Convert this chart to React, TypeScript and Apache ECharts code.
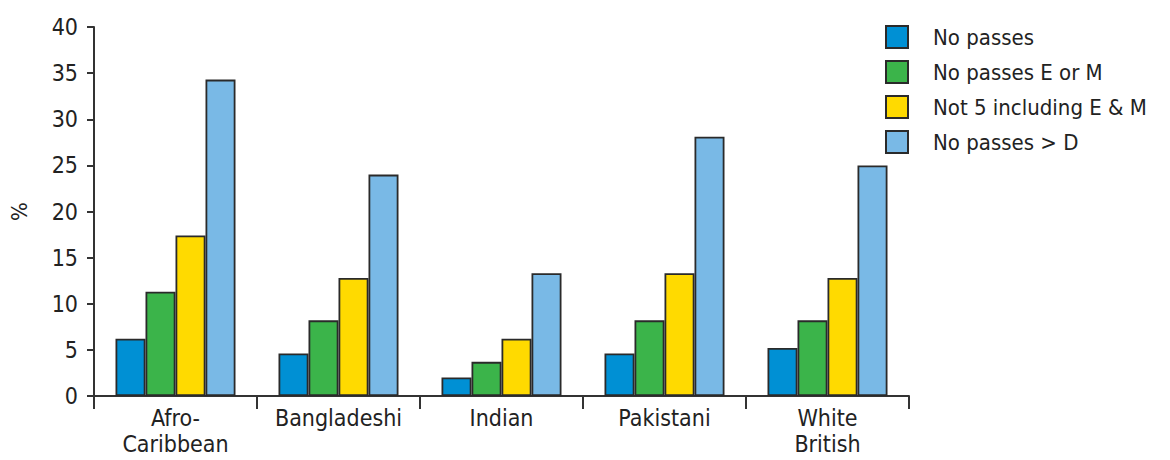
import React, { useEffect, useRef } from "react";
import * as echarts from "echarts";

const categories = ["Afro-\nCaribbean", "Bangladeshi", "Indian", "Pakistani", "White\nBritish"];
const seriesNames = ["No passes", "No passes E or M", "Not 5 including E & M", "No passes > D"];
const noPasses = [6.2, 4.6, 2.0, 4.6, 5.2];
const noPassesEorM = [11.3, 8.2, 3.7, 8.2, 8.2];
const not5IncEM = [17.4, 12.8, 6.2, 13.3, 12.8];
const noPassesAboveD = [34.3, 24.0, 13.3, 28.1, 25.0];
const colors = ["#0090d4", "#3bb44a", "#ffda00", "#79b9e6"];
const yTicks = [0, 5, 10, 15, 20, 25, 30, 35, 40];

const FONT = "'Liberation Sans Narrow', 'DejaVu Sans Condensed', 'Roboto', sans-serif";

export default function App() {
  const ref = useRef<HTMLDivElement>(null);
  useEffect(() => {
    if (!ref.current) return;
    const chart = echarts.init(ref.current, undefined, { renderer: "svg" });
    const data = [noPasses, noPassesEorM, not5IncEM, noPassesAboveD];
    chart.setOption({
      animation: false,
      textStyle: { fontFamily: FONT },
      grid: { left: 86, right: 253, top: 19, bottom: 64, containLabel: false, outerBoundsMode: "none" },
      legend: {
        orient: "vertical",
        left: 877,
        top: 17,
        padding: 0,
        itemWidth: 22,
        itemHeight: 22,
        itemGap: 11,
        icon: "rect",
        textStyle: { fontFamily: FONT, fontSize: 22, color: "#222", padding: [0, 0, 0, 20] },
        data: seriesNames,
      },
      xAxis: {
        type: "category",
        data: categories,
        axisLine: { lineStyle: { color: "#333", width: 2 } },
        axisTick: { show: true, length: 13, alignWithLabel: false, lineStyle: { color: "#333", width: 2 } },
        axisLabel: { fontFamily: FONT, fontSize: 23, color: "#222", margin: 9, lineHeight: 26, interval: 0 },
      },
      yAxis: {
        type: "value",
        min: 0,
        max: 40,
        interval: 5,
        name: "%",
        nameLocation: "middle",
        nameGap: 64,
        nameRotate: 90,
        nameTextStyle: { fontFamily: FONT, fontSize: 22, color: "#222" },
        axisLine: { show: true, lineStyle: { color: "#333", width: 2 } },
        axisTick: { show: true, length: 7, lineStyle: { color: "#333", width: 2 } },
        axisLabel: {
          fontFamily: FONT,
          fontSize: 23,
          color: "#222",
          margin: 16,
          formatter: (v: number) => (yTicks.includes(v) ? String(v) : ""),
        },
        splitLine: { show: false },
      },
      series: seriesNames.map((name, i) => ({
        name,
        type: "bar",
        data: data[i],
        barWidth: 30,
        barGap: "0%",
        itemStyle: { color: colors[i], borderColor: "#2a2a2a", borderWidth: 1.8 },
      })),
    });
    return () => chart.dispose();
  }, []);
  return <div ref={ref} style={{ width: 1154, height: 452 }} />;
}
